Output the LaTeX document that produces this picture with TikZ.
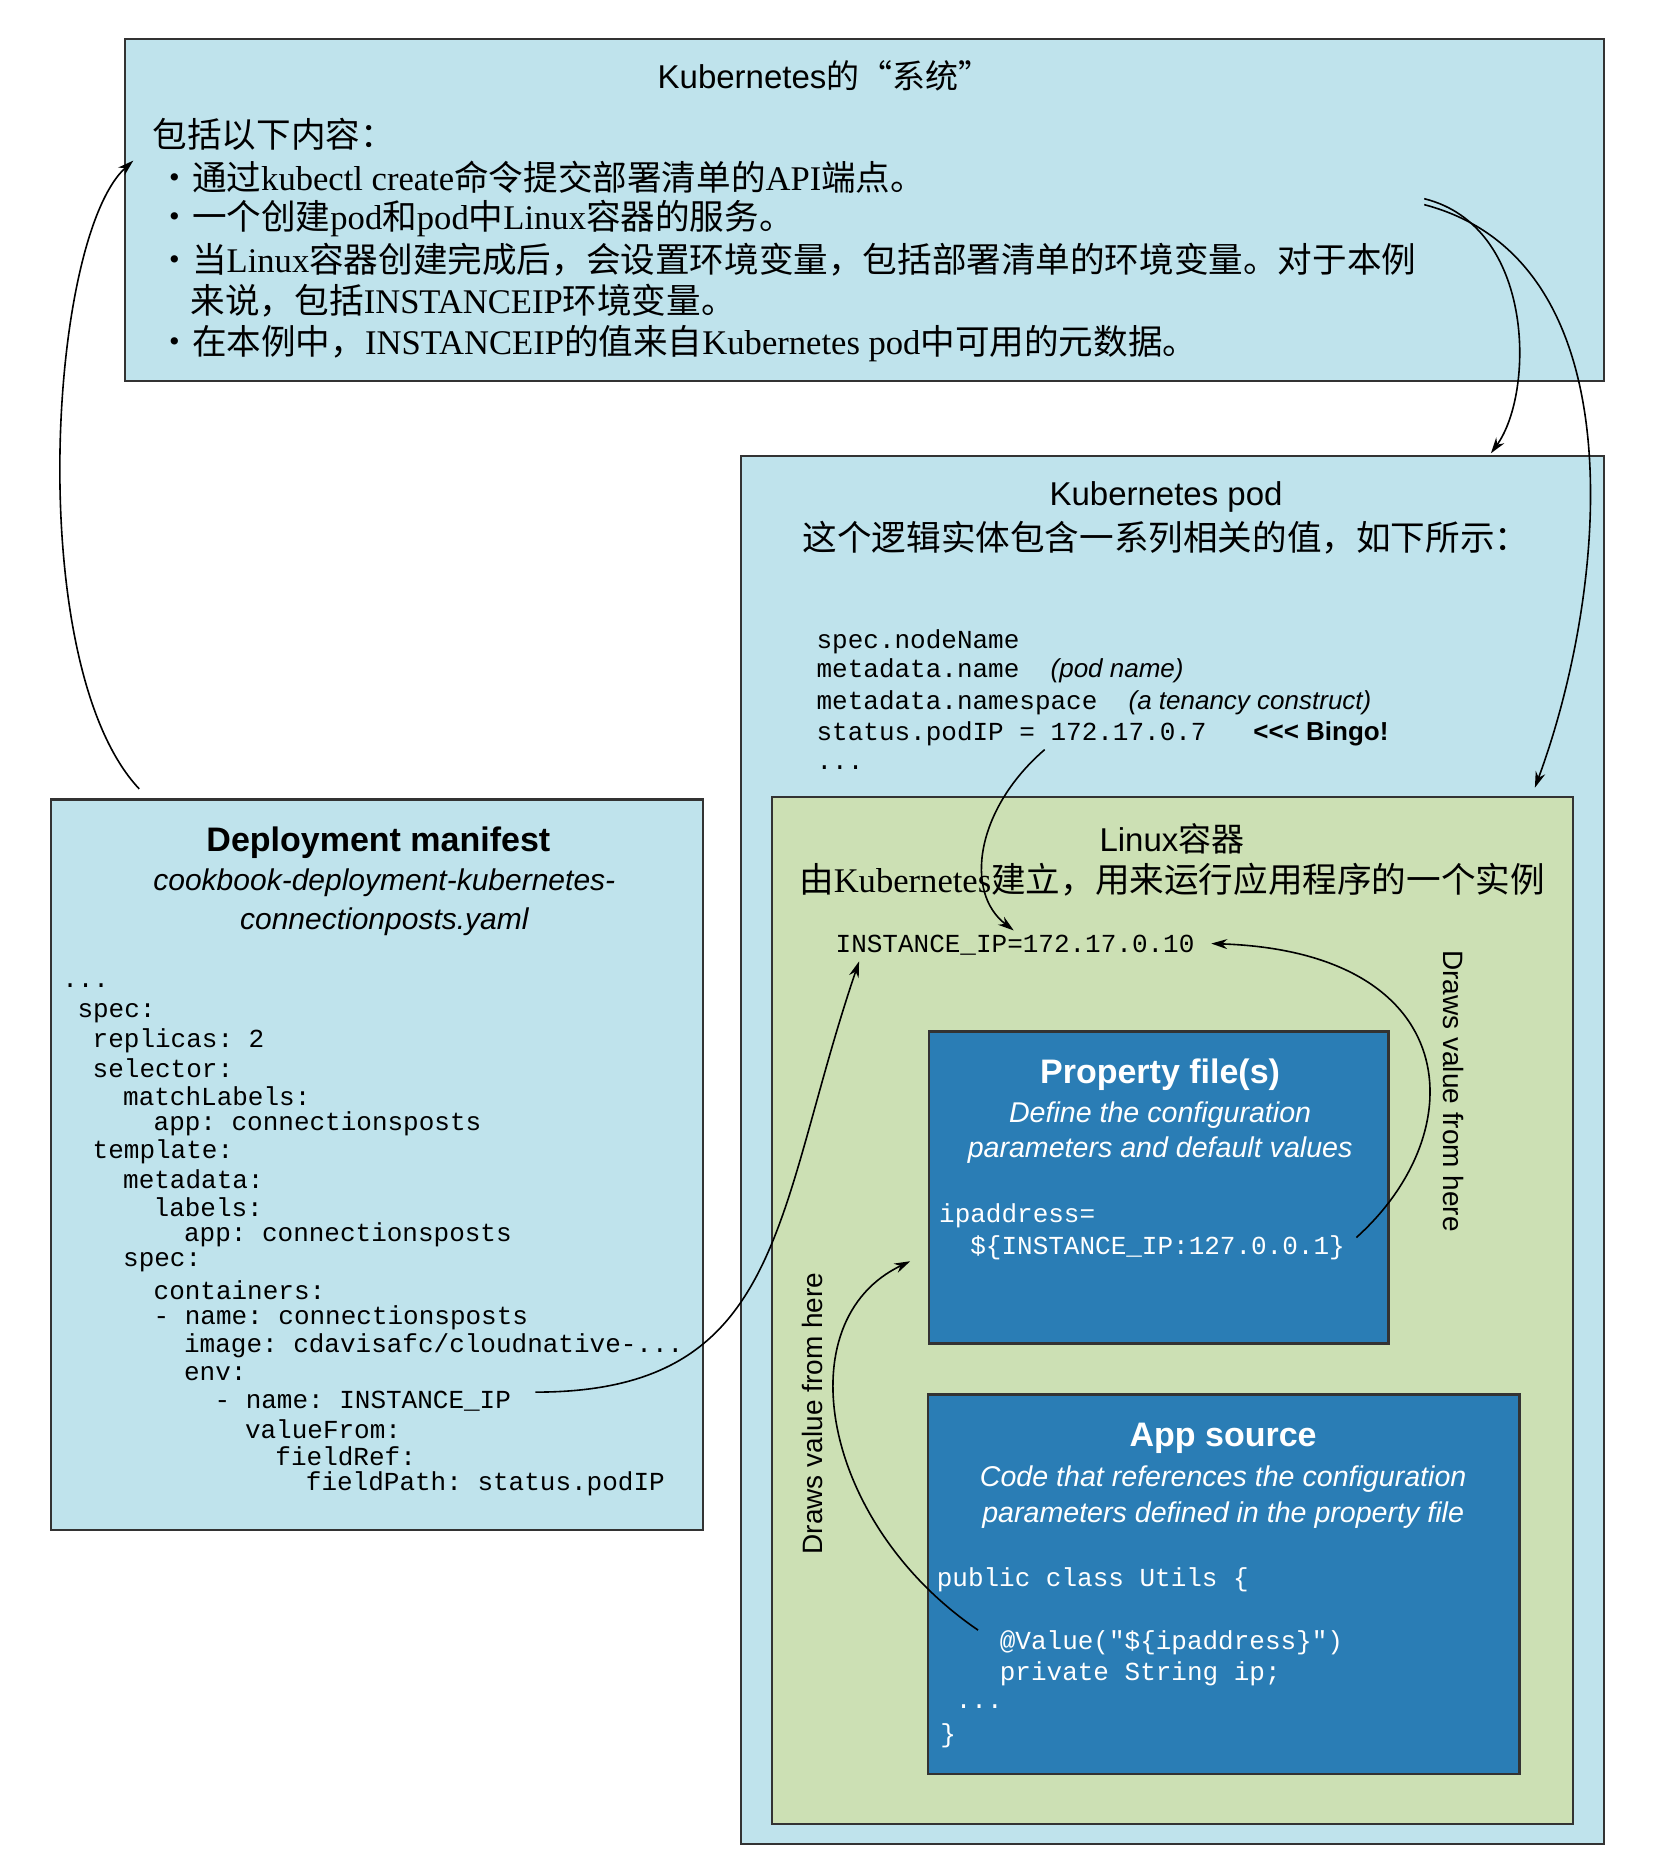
\documentclass[tikz,border=0pt]{standalone}
\usepackage{fontspec}
\setmainfont{Liberation Serif}
\setsansfont{Liberation Sans}
\setmonofont{Liberation Mono}
\newfontfamily\cjk{Noto Sans CJK SC}
\usetikzlibrary{arrows.meta}
\definecolor{lb}{HTML}{BFE3EC}
\definecolor{lg}{HTML}{CCE0B4}
\definecolor{db}{HTML}{2A7DB5}
\begin{document}
\begin{tikzpicture}[x=0.595pt,y=-0.595pt,
  box/.style={draw=black!80,line width=1.2pt},
  zh/.style={font=\fontsize{17.3}{20}\selectfont,inner sep=0pt,anchor=west},
  ttl/.style={font=\sffamily\fontsize{16.5}{19}\selectfont,inner sep=0pt},
  btl/.style={font=\sffamily\bfseries\fontsize{17}{19}\selectfont,inner sep=0pt},
  itl/.style={font=\sffamily\itshape\fontsize{14.3}{17}\selectfont,inner sep=0pt},
  cd/.style={font=\ttfamily\fontsize{13}{14}\selectfont,inner sep=0pt,anchor=west},
  cdw/.style={cd,text=white},
  arr/.style={-{Stealth[length=8pt,width=5pt]},line width=0.8pt}]
\useasboundingbox (0,0) rectangle (1390,1575);
% boxes
\draw[box,fill=lb] (105,33) rectangle (1348,320);
\draw[box,fill=lb] (623,383) rectangle (1348,1550);
\draw[box,fill=lg] (649,670) rectangle (1322,1533);
\draw[box,fill=db] (781,867) rectangle (1167,1129);
\draw[box,fill=db] (780,1172) rectangle (1277,1491);
\draw[box,fill=lb] (43,672) rectangle (591,1286);
% top text
\node[ttl] (t0) at (693,64) {Kubernetes{\cjk 的“系统”}};
\node[zh] (t1) at (128,113) {\cjk 包括以下内容：};
\node[zh] (t2) at (132,149) {{\cjk ・通过}kubectl create{\cjk 命令提交部署清单的}API{\cjk 端点。}};
\node[zh] (t3) at (132,184) {{\cjk ・一个创建}pod{\cjk 和}pod{\cjk 中}Linux{\cjk 容器的服务。}};
\node[zh] (t4) at (132,218) {{\cjk ・当}Linux{\cjk 容器创建完成后，会设置环境变量，包括部署清单的环境变量。对于本例}};
\node[zh] (t5) at (160,253) {{\cjk 来说，包括}INSTANCEIP{\cjk 环境变量。}};
\node[zh] (t6) at (132,289) {{\cjk ・在本例中，}INSTANCEIP{\cjk 的值来自}Kubernetes pod{\cjk 中可用的元数据。}};
% pod
\node[ttl] (p0) at (980,418) {Kubernetes pod};
\node[zh,anchor=center] (p1) at (980,452) {\cjk 这个逻辑实体包含一系列相关的值，如下所示：};
\node[cd] (p2) at (686,539) {spec.nodeName};
\node[cd] (p3) at (686,564) {metadata.name \ {\sffamily\itshape (pod name)}};
\node[cd] (p4) at (686,591) {metadata.namespace \ {\sffamily\itshape (a tenancy construct)}};
\node[cd] (p5) at (686,617) {status.podIP = 172.17.0.7 \ \ {\sffamily\bfseries <{}<{}< Bingo!}};
\node[cd] (p6) at (686,645) {...};
% linux
\node[ttl] (l0) at (985,705) {Linux{\cjk 容器}};
\node[zh,anchor=center] (l1) at (985,739) {{\cjk 由}Kubernetes{\cjk 建立，用来运行应用程序的一个实例}};
\node[cd] (l2) at (702,794) {INSTANCE\_IP=172.17.0.10};
\node[font=\sffamily\fontsize{14}{16}\selectfont,rotate=-90,inner sep=0pt] (r1) at (1222,917) {Draws value from here};
\node[font=\sffamily\fontsize{14}{16}\selectfont,rotate=90,inner sep=0pt] (r2) at (683,1188) {Draws value from here};
% property
\node[btl,text=white] (f0) at (975,903) {Property file(s)};
\node[itl,text=white] (f1) at (975,937) {Define the configuration};
\node[itl,text=white] (f2) at (975,967) {parameters and default values};
\node[cdw] (f3) at (789,1022) {ipaddress=};
\node[cdw] (f4) at (789,1049) {\ \ \$\{INSTANCE\_IP:127.0.0.1\}};
% app
\node[btl,text=white] (a0) at (1028,1209) {App source};
\node[itl,text=white] (a1) at (1028,1243) {Code that references the configuration};
\node[itl,text=white] (a2) at (1028,1273) {parameters defined in the property file};
\node[cdw] (a3) at (787,1328) {public class Utils \{};
\node[cdw] (a4) at (840,1381) {@Value("\$\{ipaddress\}")};
\node[cdw] (a5) at (840,1407) {private String ip;};
\node[cdw] (a6) at (803,1434) {...};
\node[cdw] (a7) at (790,1459) {\}};
% deployment
\node[btl] (d0) at (318,708) {Deployment manifest};
\node[itl,font=\sffamily\itshape\fontsize{15}{17}\selectfont] (d1) at (323,742) {cookbook-deployment-kubernetes-};
\node[itl,font=\sffamily\itshape\fontsize{15}{17}\selectfont] (d2) at (323,775) {connectionposts.yaml};
\node[cd] (c0) at (52,828) {...};
\node[cd] (c1) at (64.8,851.3) {spec:};
\node[cd] (c2) at (77.6,874.6) {replicas: 2};
\node[cd] (c3) at (77.6,897.9) {selector:};
\node[cd] (c4) at (103.2,921.2) {matchLabels:};
\node[cd] (c5) at (128.8,944.5) {app: connectionsposts};
\node[cd] (c6) at (77.6,967.8) {template:};
\node[cd] (c7) at (103.2,991.1) {metadata:};
\node[cd] (c8) at (128.8,1014.4) {labels:};
\node[cd] (c9) at (154.4,1037.7) {app: connectionsposts};
\node[cd] (c10) at (103.2,1061) {spec:};
\node[cd] (c11) at (128.8,1084.3) {containers:};
\node[cd] (c12) at (128.8,1107.6) {- name: connectionsposts};
\node[cd] (c13) at (154.4,1130.9) {image: cdavisafc/cloudnative-...};
\node[cd] (c14) at (154.4,1154.2) {env:};
\node[cd] (c15) at (180,1177.5) {- name: INSTANCE\_IP};
\node[cd] (c16) at (205.6,1200.8) {valueFrom:};
\node[cd] (c17) at (231.2,1224.1) {fieldRef:};
\node[cd] (c18) at (256.8,1247.4) {fieldPath: status.podIP};
% arrows
\coordinate (s1) at (117,663); \coordinate (e1) at (112,135);
\draw[arr] (s1) .. controls (20,560) and (40,200) .. (e1);
\coordinate (s2) at (1197,167); \coordinate (e2) at (1253,381);
\draw[arr] (s2) .. controls (1290,190) and (1290,330) .. (e2);
\coordinate (s3) at (1197,172); \coordinate (e3) at (1290,662);
\draw[arr] (s3) .. controls (1380,220) and (1350,500) .. (e3);
\coordinate (s4) at (878,630); \coordinate (e4) at (852,782);
\draw[arr] (s4) .. controls (820,680) and (810,750) .. (e4);
\coordinate (s5) at (450,1170); \coordinate (e5) at (722,808);
\draw[arr] (s5) .. controls (660,1170) and (650,1020) .. (e5);
\coordinate (s6) at (1140,1040); \coordinate (e6) at (1018,793);
\draw[arr] (s6) .. controls (1240,950) and (1230,800) .. (e6);
\coordinate (s7) at (822,1370); \coordinate (e7) at (765,1060);
\draw[arr] (s7) .. controls (690,1280) and (660,1110) .. (e7);
\end{tikzpicture}
\end{document}
